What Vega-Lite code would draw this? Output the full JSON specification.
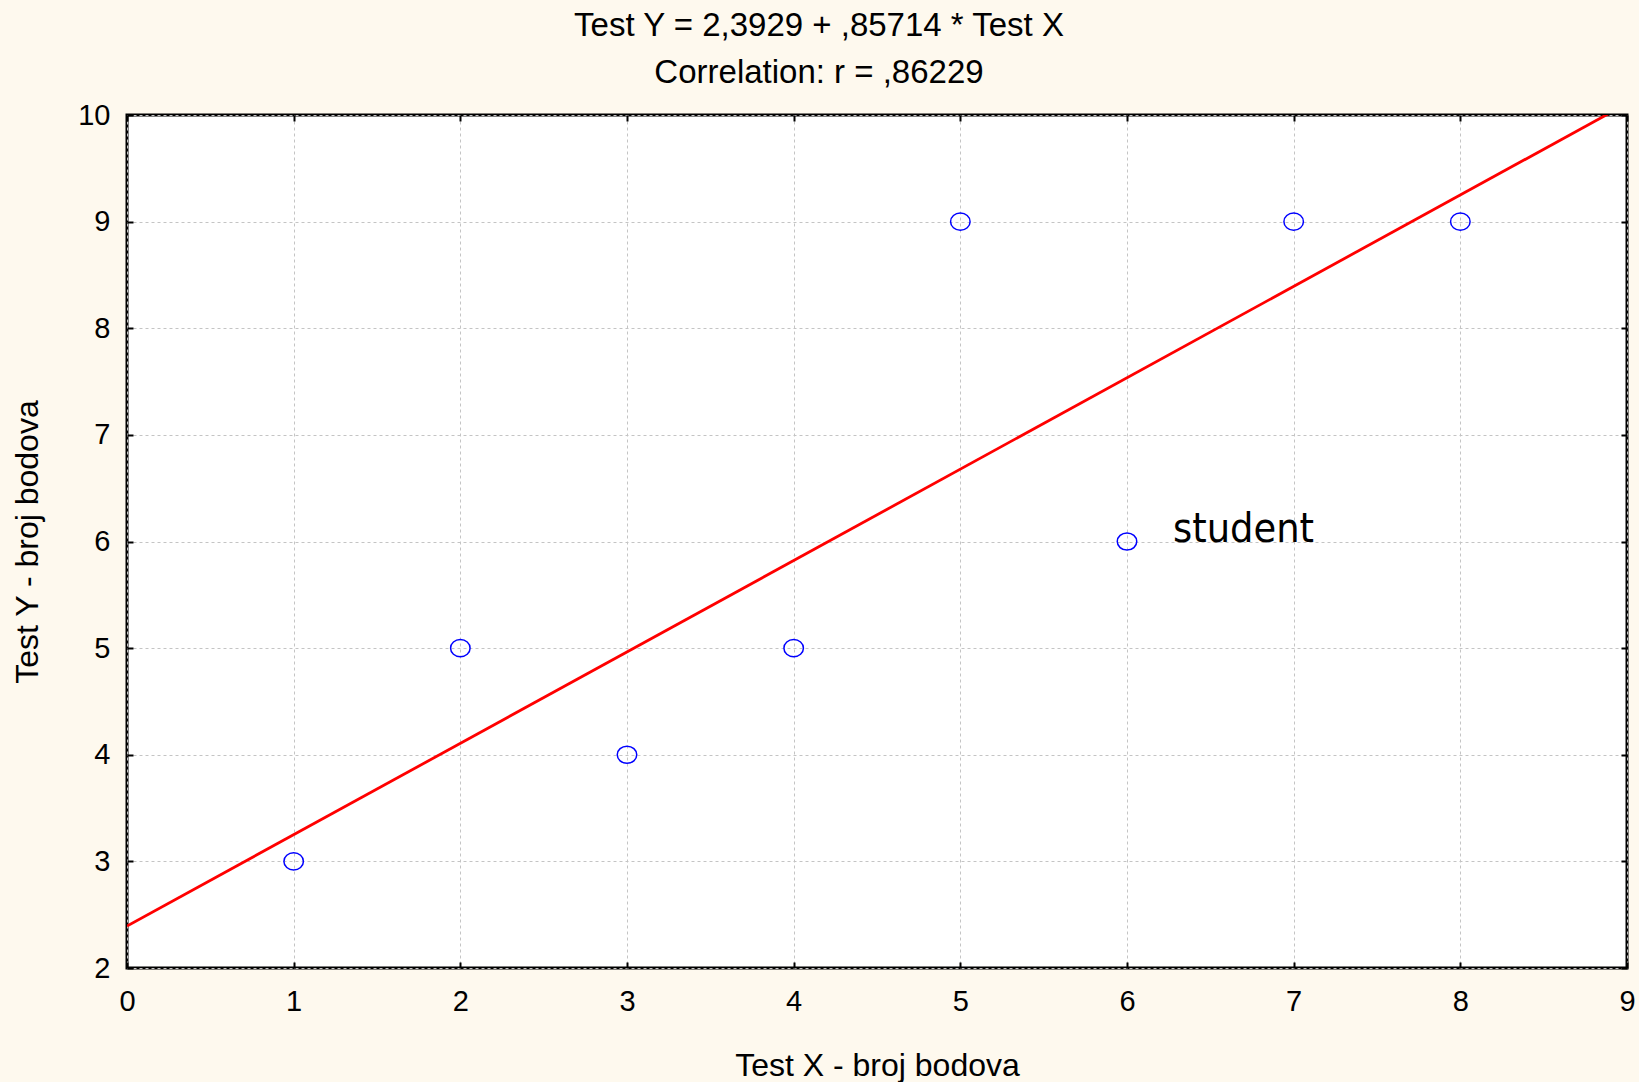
{
  "$schema": "https://vega.github.io/schema/vega-lite/v6.json",
  "width": 1500,
  "height": 853,
  "autosize": {"type": "none"},
  "padding": {"left": 127, "top": 115, "right": 12, "bottom": 114},
  "background": "#FEF9EE",
  "title": {
    "text": ["Test Y = 2,3929 +  ,85714 * Test X", "Correlation: r = ,86229"],
    "anchor": "middle",
    "dx": -58,
    "offset": -15,
    "baseline": "alphabetic",
    "lineHeight": 47,
    "font": "Liberation Sans",
    "fontSize": 33,
    "fontWeight": "normal",
    "color": "#000000"
  },
  "data": {
    "values": [
      {"x": 1, "y": 3, "label": ""},
      {"x": 2, "y": 5, "label": ""},
      {"x": 3, "y": 4, "label": ""},
      {"x": 4, "y": 5, "label": ""},
      {"x": 5, "y": 9, "label": ""},
      {"x": 6, "y": 6, "label": "student"},
      {"x": 7, "y": 9, "label": ""},
      {"x": 8, "y": 9, "label": ""}
    ]
  },
  "config": {
    "view": {"stroke": "#000000", "strokeWidth": 3, "fill": "#FFFFFF"},
    "axis": {
      "labelFont": "Liberation Sans",
      "labelFontSize": 29,
      "labelColor": "#000000",
      "titleFont": "Liberation Sans",
      "titleFontSize": 32,
      "titleFontWeight": "normal",
      "titleColor": "#000000",
      "tickColor": "#000000",
      "tickWidth": 2,
      "tickSize": -6,
      "domain": false,
      "gridColor": "#C4C4C4",
      "gridDash": [3, 3],
      "gridWidth": 1,
      "gridOpacity": 1
    }
  },
  "resolve": {"axis": {"x": "independent", "y": "independent"}},
  "layer": [
    {
      "transform": [{"regression": "y", "on": "x", "extent": [0, 9]}],
      "mark": {"type": "line", "color": "#FF0000", "strokeWidth": 2.8, "clip": true},
      "encoding": {
        "x": {
          "field": "x", "type": "quantitative",
          "scale": {"domain": [0, 9], "nice": false, "zero": false},
          "axis": {
            "values": [0, 1, 2, 3, 4, 5, 6, 7, 8, 9],
            "title": "Test X - broj bodova",
            "labelPadding": 25,
            "labelFlush": false,
            "titleX": 750,
            "titleY": 107,
            "titleAlign": "center",
            "titleBaseline": "alphabetic",
            "grid": true
          }
        },
        "y": {
          "field": "y", "type": "quantitative",
          "scale": {"domain": [2, 10], "nice": false, "zero": false},
          "axis": {
            "values": [2, 3, 4, 5, 6, 7, 8, 9, 10],
            "title": "Test Y - broj bodova",
            "labelPadding": 23,
            "labelFlush": false,
            "titleX": -90,
            "titleY": 426.5,
            "titleAngle": -90,
            "titleAlign": "center",
            "titleBaseline": "alphabetic",
            "grid": true
          }
        }
      }
    },
    {
      "mark": {"type": "point", "shape": "M-1,0A1,0.88 0 1,1 1,0A1,0.88 0 1,1 -1,0Z", "size": 380, "filled": false, "stroke": "#0000FF", "strokeWidth": 1.5, "opacity": 1},
      "encoding": {
        "x": {
          "field": "x", "type": "quantitative",
          "axis": {"orient": "top", "values": [0, 1, 2, 3, 4, 5, 6, 7, 8, 9], "labels": false, "title": null, "grid": false}
        },
        "y": {
          "field": "y", "type": "quantitative",
          "axis": {"orient": "right", "values": [2, 3, 4, 5, 6, 7, 8, 9, 10], "labels": false, "title": null, "grid": false}
        }
      }
    },
    {
      "transform": [{"filter": "datum.label != ''"}],
      "mark": {"type": "text", "align": "left", "baseline": "alphabetic", "dx": 46, "font": "DejaVu Sans Condensed", "fontSize": 41, "color": "#000000"},
      "encoding": {
        "x": {"field": "x", "type": "quantitative", "axis": null},
        "y": {"field": "y", "type": "quantitative", "axis": null},
        "text": {"field": "label"}
      }
    }
  ]
}
